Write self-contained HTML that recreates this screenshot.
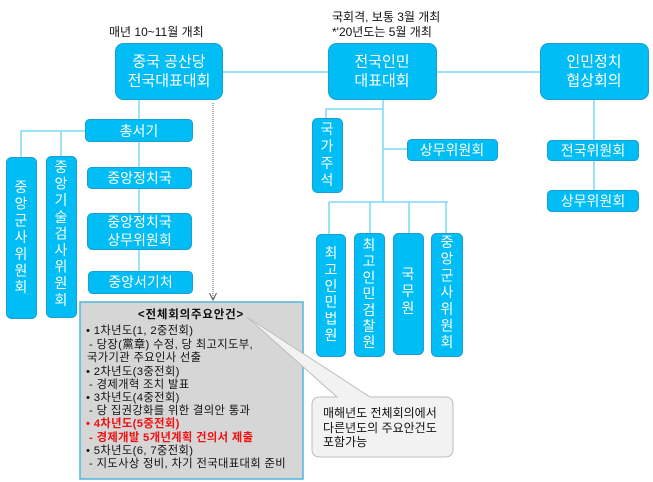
<!DOCTYPE html>
<html><head><meta charset="utf-8">
<style>
html,body{margin:0;padding:0;background:#fff;}
svg{display:block;font-family:"Liberation Sans","Noto Sans CJK KR",sans-serif;}
.b{fill:#00bdf5;stroke:#1a9fd4;stroke-width:1;}
.w{fill:#fff;font-size:14px;text-anchor:middle;dominant-baseline:central;}
.wb{fill:#fff;font-size:15px;text-anchor:middle;dominant-baseline:central;}
.l{stroke:#7dd8f6;stroke-width:1.5;fill:none;}
.g{font-size:11.3px;fill:#111;dominant-baseline:central;letter-spacing:0.35px;}
.r{font-size:11.3px;fill:#f01010;dominant-baseline:central;letter-spacing:0.35px;}
</style></head>
<body>
<svg width="653" height="482" viewBox="0 0 653 482" xmlns="http://www.w3.org/2000/svg">
<!-- connectors -->
<line class="l" x1="223" y1="72" x2="328" y2="72"/>
<line class="l" x1="437" y1="72" x2="540" y2="72"/>
<line class="l" x1="139" y1="100" x2="139" y2="271"/>
<polyline class="l" points="85,131 21,131 21,157"/>
<line class="l" x1="61" y1="131" x2="61" y2="156"/>
<line class="l" x1="383" y1="100" x2="383" y2="202"/>
<polyline class="l" points="383,109 326,109 326,118"/>
<line class="l" x1="383" y1="149" x2="407" y2="149"/>
<line class="l" x1="329" y1="202" x2="448" y2="202"/>
<line class="l" x1="329" y1="202" x2="329" y2="234"/>
<line class="l" x1="370" y1="202" x2="370" y2="233"/>
<line class="l" x1="409" y1="202" x2="409" y2="233"/>
<line class="l" x1="446" y1="202" x2="446" y2="233"/>
<line class="l" x1="594" y1="100" x2="594" y2="190"/>

<!-- dotted arrow -->
<line x1="213" y1="103" x2="213" y2="299" stroke="#777" stroke-width="1.2" stroke-dasharray="1,1"/>
<polyline points="209.5,293 213,300 216.5,293" fill="none" stroke="#555" stroke-width="1"/>

<!-- top labels -->
<text x="109" y="32" font-size="12" fill="#111" dominant-baseline="central">매년 10~11월 개최</text>
<text x="332" y="17" font-size="12" fill="#111" dominant-baseline="central">국회격, 보통 3월 개최</text>
<text x="332" y="32" font-size="12" fill="#111" dominant-baseline="central">*'20년도는 5월 개최</text>

<!-- top boxes -->
<rect class="b" x="115.5" y="43.5" width="107" height="56" rx="8"/>
<text class="wb" x="169" y="62">중국 공산당</text>
<text class="wb" x="169" y="81">전국대표대회</text>
<rect class="b" x="328.5" y="43.5" width="108" height="56" rx="8"/>
<text class="wb" x="382" y="62">전국인민</text>
<text class="wb" x="382" y="81">대표대회</text>
<rect class="b" x="540.5" y="43.5" width="108" height="56" rx="8"/>
<text class="wb" x="594" y="62">인민정치</text>
<text class="wb" x="594" y="81">협상회의</text>

<!-- party column -->
<rect class="b" x="85.5" y="119.5" width="107" height="22" rx="4"/>
<text class="w" x="139" y="131">총서기</text>
<rect class="b" x="87.5" y="167.5" width="104" height="21" rx="4"/>
<text class="w" x="139.5" y="178">중앙정치국</text>
<rect class="b" x="87.5" y="213.5" width="104" height="36" rx="5"/>
<text class="w" x="139.5" y="222">중앙정치국</text>
<text class="w" x="139.5" y="240">상무위원회</text>
<rect class="b" x="88.5" y="271.5" width="104" height="22" rx="4"/>
<text class="w" x="140.5" y="282">중앙서기처</text>

<!-- left vertical boxes -->
<rect class="b" x="6.5" y="157.5" width="30" height="161" rx="5"/>
<g class="w">
<text x="21" y="187">중</text><text x="21" y="203.7">앙</text><text x="21" y="220.4">군</text><text x="21" y="237.1">사</text><text x="21" y="253.8">위</text><text x="21" y="270.5">원</text><text x="21" y="287.2">회</text>
</g>
<rect class="b" x="46.5" y="156.5" width="30" height="161" rx="5"/>
<g class="w">
<text x="61" y="167">중</text><text x="61" y="183.6">앙</text><text x="61" y="200.2">기</text><text x="61" y="216.8">술</text><text x="61" y="233.4">검</text><text x="61" y="250">사</text><text x="61" y="266.6">위</text><text x="61" y="283.2">원</text><text x="61" y="299.8">회</text>
</g>

<!-- NPC column -->
<rect class="b" x="312.5" y="118.5" width="30" height="74" rx="5"/>
<g class="w">
<text x="327" y="129">국</text><text x="327" y="146">가</text><text x="327" y="163">주</text><text x="327" y="180">석</text>
</g>
<rect class="b" x="407.5" y="139.5" width="90" height="21" rx="4"/>
<text class="w" x="452" y="150">상무위원회</text>

<rect class="b" x="316.5" y="234.5" width="29" height="122" rx="5"/>
<g class="w">
<text x="331" y="253">최</text><text x="331" y="269.4">고</text><text x="331" y="285.8">인</text><text x="331" y="302.2">민</text><text x="331" y="318.6">법</text><text x="331" y="335">원</text>
</g>
<rect class="b" x="354.5" y="233.5" width="30" height="123" rx="5"/>
<g class="w">
<text x="369" y="245">최</text><text x="369" y="261.2">고</text><text x="369" y="277.4">인</text><text x="369" y="293.6">민</text><text x="369" y="309.8">검</text><text x="369" y="326">찰</text><text x="369" y="342.2">원</text>
</g>
<rect class="b" x="393.5" y="233.5" width="30" height="121" rx="5"/>
<g class="w">
<text x="408" y="274">국</text><text x="408" y="291">무</text><text x="408" y="308">원</text>
</g>
<rect class="b" x="431.5" y="233.5" width="31" height="123" rx="5"/>
<g class="w">
<text x="447" y="242">중</text><text x="447" y="258.7">앙</text><text x="447" y="275.4">군</text><text x="447" y="292.1">사</text><text x="447" y="308.8">위</text><text x="447" y="325.5">원</text><text x="447" y="342.2">회</text>
</g>

<!-- CPPCC column -->
<rect class="b" x="547.5" y="140.5" width="91" height="20" rx="4"/>
<text class="w" x="593" y="150.5">전국위원회</text>
<rect class="b" x="547.5" y="190.5" width="91" height="21" rx="4"/>
<text class="w" x="593" y="201">상무위원회</text>

<!-- gray box -->
<rect x="80" y="302" width="223" height="177" fill="#d6d6d6" stroke="#4cb6de" stroke-width="1.5"/>
<text x="191" y="315" font-size="11.5" font-weight="bold" fill="#111" text-anchor="middle" dominant-baseline="central" letter-spacing="0.8">&lt;전체회의주요안건&gt;</text>
<text class="g" x="86" y="331">• 1차년도(1, 2중전회)</text>
<text class="g" x="89" y="345">- 당장(黨章) 수정, 당 최고지도부,</text>
<text class="g" x="87" y="358">국가기관 주요인사 선출</text>
<text class="g" x="86" y="372">• 2차년도(3중전회)</text>
<text class="g" x="89" y="385">- 경제개혁 조치 발표</text>
<text class="g" x="86" y="398">• 3차년도(4중전회)</text>
<text class="g" x="89" y="411">- 당 집권강화를 위한 결의안 통과</text>
<text class="r" x="86" y="424" font-weight="bold">• 4차년도(5중전회)</text>
<text class="r" x="89" y="438" font-weight="bold">- 경제개발 5개년계획 건의서 제출</text>
<text class="g" x="86" y="451">• 5차년도(6, 7중전회)</text>
<text class="g" x="89" y="464">- 지도사상 정비, 차기 전국대표대회 준비</text>

<!-- callout -->
<path d="M320,397 L337,397 L247,317 L370,397 L445,397 Q453,397 453,405 L453,449 Q453,457 445,457 L320,457 Q312,457 312,449 L312,405 Q312,397 320,397 Z" fill="#f2f2f2" stroke="#bdbdbd" stroke-width="1"/>
<text x="323" y="413" font-size="12" fill="#111" dominant-baseline="central">매해년도 전체회의에서</text>
<text x="323" y="428" font-size="12" fill="#111" dominant-baseline="central">다른년도의 주요안건도</text>
<text x="323" y="442" font-size="12" fill="#111" dominant-baseline="central">포함가능</text>
</svg>
</body></html>
